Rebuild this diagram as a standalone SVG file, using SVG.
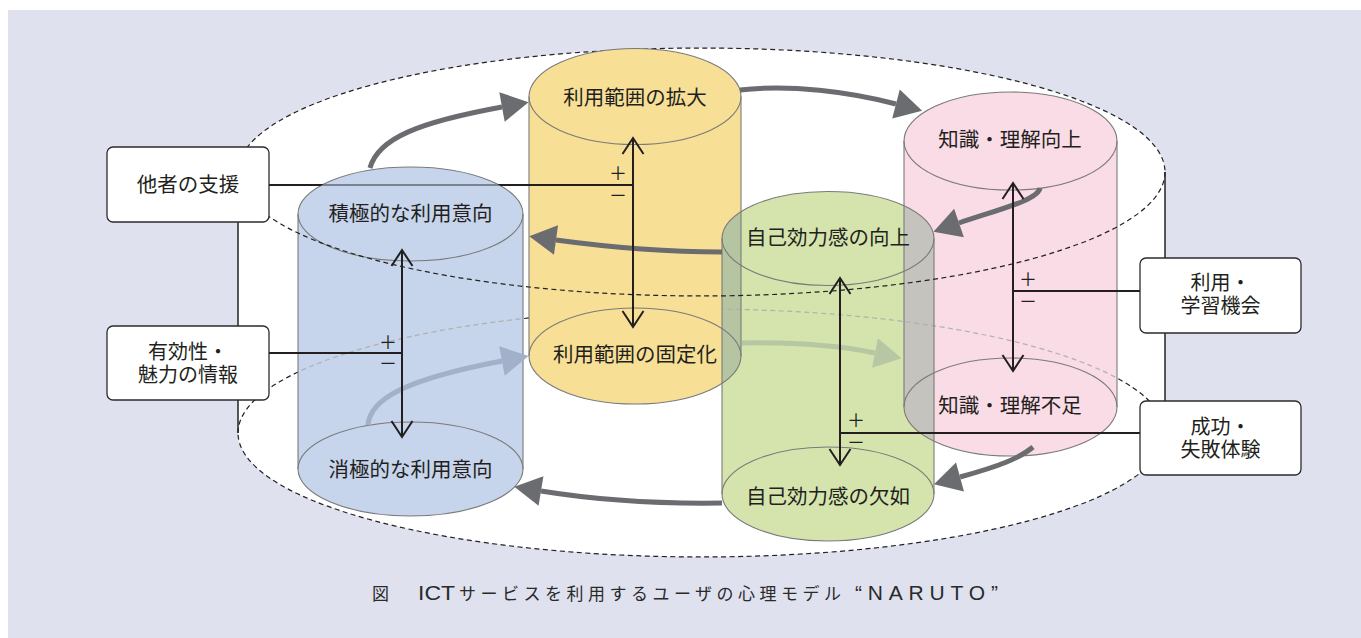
<svg xmlns="http://www.w3.org/2000/svg" width="1361" height="638" viewBox="0 0 1361 638">
<style>
.t{font-family:"Noto Sans CJK JP","Noto Sans CJK SC",sans-serif;font-size:20.5px;fill:#231f20;text-anchor:middle}
.tb{font-family:"Noto Sans CJK JP","Noto Sans CJK SC",sans-serif;font-size:20px;fill:#231f20;text-anchor:middle}
.pm{font-family:"Noto Sans CJK JP","Noto Sans CJK SC",sans-serif;font-size:18px;fill:#231f20;text-anchor:middle}
.cap{font-family:"Noto Sans CJK JP","Noto Sans CJK SC",sans-serif;font-size:17px;fill:#2a2a2a}
.lat{font-family:"Liberation Sans",sans-serif;font-size:21px;fill:#2a2a2a}
.box{fill:#fff;stroke:#2b2b2b;stroke-width:1.3}
.cylo{fill:none;stroke:#7a7a7a;stroke-width:1.1}
.dash{fill:none;stroke:#222;stroke-width:1.2;stroke-dasharray:5 3.5}
.dashg{fill:none;stroke:#b0b0b0;stroke-width:1.2;stroke-dasharray:5 3.5}
.side{stroke:#222;stroke-width:1.5}
.ln{stroke:#231f20;stroke-width:2;fill:none}
.dbl{stroke:#231f20;stroke-width:2;fill:none;marker-start:url(#ch);marker-end:url(#ch)}
.arr{fill:none;stroke:#6b6c70;stroke-width:5;marker-end:url(#ah)}
.arrb{fill:none;stroke:#a2b0c9;stroke-width:5;marker-end:url(#ahb)}
.arrg{fill:none;stroke:#b7c6a3;stroke-width:5;marker-end:url(#ahg)}
</style>
<defs>
<marker id="ah" markerUnits="userSpaceOnUse" markerWidth="30" markerHeight="32" viewBox="0 -16 30 32" refX="0" refY="0" orient="auto" overflow="visible"><path d="M0,-15 L27,0 L0,15 Z" fill="#6b6c70"/></marker>
<marker id="ahb" markerUnits="userSpaceOnUse" markerWidth="30" markerHeight="32" viewBox="0 -16 30 32" refX="0" refY="0" orient="auto" overflow="visible"><path d="M0,-15 L27,0 L0,15 Z" fill="#a2b0c9"/></marker>
<marker id="ahg" markerUnits="userSpaceOnUse" markerWidth="30" markerHeight="32" viewBox="0 -16 30 32" refX="0" refY="0" orient="auto" overflow="visible"><path d="M0,-15 L27,0 L0,15 Z" fill="#b7c6a3"/></marker>
<marker id="ch" markerUnits="userSpaceOnUse" markerWidth="20" markerHeight="24" viewBox="-18 -12 20 24" refX="0" refY="0" orient="auto-start-reverse" overflow="visible"><path d="M-16,-10.5 L0,0 L-16,10.5" fill="none" stroke="#231f20" stroke-width="2"/></marker>
<path id="sBlue" d="M298,214 A112.5,47 0 0 1 523,214 L523,469 A112.5,47 0 0 1 298,469 Z"/>
<path id="sYel" d="M529,96.5 A106,48 0 0 1 741,96.5 L741,356 A106,48 0 0 1 529,356 Z"/>
<path id="sPink" d="M904,141 A106.5,49 0 0 1 1117,141 L1117,407 A106.5,49 0 0 1 904,407 Z"/>
<path id="sGreen" d="M722,238.5 A106,47 0 0 1 934,238.5 L934,494 A106,47 0 0 1 722,494 Z"/>
<clipPath id="cGreen"><use href="#sGreen"/></clipPath>
<clipPath id="cBlue"><use href="#sBlue"/></clipPath>
<clipPath id="cBGP"><use href="#sBlue"/><use href="#sGreen"/><use href="#sPink"/></clipPath>
</defs>

<rect x="0" y="0" width="1361" height="638" fill="#fff"/>
<rect x="8" y="10" width="1353" height="628" fill="#dfe1ef"/>

<g id="frame">
<path d="M238,172 A463.5,124 0 0 1 1165,172 L1165,433 A463.5,124 0 0 1 238,433 Z" fill="#fff"/>
<path class="dash" d="M238,172 A463.5,124 0 0 1 1165,172"/>
<path class="dash" d="M238,433 A463.5,124 0 0 1 1165,433"/>
<line class="side" x1="238" y1="172" x2="238" y2="433"/>
<line class="side" x1="1165" y1="172" x2="1165" y2="433"/>
</g>

<g id="cylinders-fill">
<use href="#sYel" fill="#f7df96"/>
<use href="#sPink" fill="#f9dce6"/>
<use href="#sBlue" fill="#c6d4ec"/>
<use href="#sGreen" fill="#d5e4ad"/>
<use href="#sYel" fill="#b5c4a1" clip-path="url(#cGreen)"/>
<use href="#sPink" fill="#c4c3bd" clip-path="url(#cGreen)"/>
<path class="dashg" d="M238,433 A463.5,124 0 0 1 1165,433" clip-path="url(#cBGP)"/>
</g>

<g id="cylinder-outlines">
<g class="cylo">
<ellipse cx="635" cy="96.5" rx="106" ry="48"/><ellipse cx="635" cy="356" rx="106" ry="48"/>
<line x1="529" y1="96.5" x2="529" y2="356"/><line x1="741" y1="96.5" x2="741" y2="356"/>
<ellipse cx="1010.5" cy="141" rx="106.5" ry="49"/><ellipse cx="1010.5" cy="407" rx="106.5" ry="49"/>
<line x1="904" y1="141" x2="904" y2="407"/><line x1="1117" y1="141" x2="1117" y2="407"/>
<ellipse cx="410.5" cy="214" rx="112.5" ry="47"/><ellipse cx="410.5" cy="469" rx="112.5" ry="47"/>
<line x1="298" y1="214" x2="298" y2="469"/><line x1="523" y1="214" x2="523" y2="469"/>
<ellipse cx="828" cy="238.5" rx="106" ry="47"/><ellipse cx="828" cy="494" rx="106" ry="47"/>
<line x1="722" y1="238.5" x2="722" y2="494"/><line x1="934" y1="238.5" x2="934" y2="494"/>
</g>
</g>

<g id="front-arcs">
<path class="dash" d="M1165,172 A463.5,124 0 0 1 238,172"/>
<path class="dash" d="M1165,433 A463.5,124 0 0 1 238,433"/>
</g>

<g id="connectors">
<path class="arrb" d="M368,425 C370,400 402,380 502,361"/>
<path class="arrg" d="M742,343 C800,342 840,346 875,353"/>
<path class="arr" d="M370,168 C378,138 420,122 502,107"/>
<path class="arr" d="M740,90 C790,84 850,92 896,104"/>
<path class="arr" d="M1040,188 C1038,200 1000,209 959,223"/>
<path class="arr" d="M722,252 C660,252 600,246 556,240"/>
<path class="arr" d="M1033,447 C1020,458 1000,466 960,477"/>
<path class="arr" d="M722,503 C650,504 590,499 541,491"/>
<line class="ln" x1="269" y1="185" x2="633" y2="185"/>
<line x1="269" y1="185" x2="633" y2="185" stroke="#7b8292" stroke-width="2" clip-path="url(#cBlue)"/>
<line class="ln" x1="269" y1="353" x2="402" y2="353"/>
<line class="ln" x1="1140" y1="291" x2="1013" y2="291"/>
<line class="ln" x1="1140" y1="433" x2="840" y2="433"/>
<line class="dbl" x1="402" y1="250" x2="402" y2="437"/>
<line class="dbl" x1="633" y1="138" x2="633" y2="327"/>
<line class="dbl" x1="1013" y1="183" x2="1013" y2="371"/>
<line class="dbl" x1="840" y1="278" x2="840" y2="465"/>
<text class="pm" x="388" y="348.5">＋</text><text class="pm" x="388" y="369.5">－</text>
<text class="pm" x="618" y="179.5">＋</text><text class="pm" x="618" y="201.5">－</text>
<text class="pm" x="1028" y="285.5">＋</text><text class="pm" x="1028" y="307.5">－</text>
<text class="pm" x="856" y="426.5">＋</text><text class="pm" x="856" y="448.5">－</text>
</g>

<g id="node-positive-intent"><text class="t" x="410.5" y="221">積極的な利用意向</text></g>
<g id="node-negative-intent"><text class="t" x="410.5" y="477">消極的な利用意向</text></g>
<g id="node-scope-expand"><text class="t" x="635" y="105">利用範囲の拡大</text></g>
<g id="node-scope-fixed"><text class="t" x="635" y="362">利用範囲の固定化</text></g>
<g id="node-efficacy-up"><text class="t" x="828" y="245">自己効力感の向上</text></g>
<g id="node-efficacy-lack"><text class="t" x="828" y="504">自己効力感の欠如</text></g>
<g id="node-knowledge-up"><text class="t" x="1010" y="147">知識・理解向上</text></g>
<g id="node-knowledge-lack"><text class="t" x="1010" y="413">知識・理解不足</text></g>

<g id="node-support">
<rect class="box" x="107" y="147" width="162" height="75" rx="6"/>
<text class="t" x="188" y="192">他者の支援</text>
</g>
<g id="node-info">
<rect class="box" x="107" y="326" width="162" height="74" rx="6"/>
<text class="tb" x="188" y="359">有効性・</text>
<text class="tb" x="188" y="382">魅力の情報</text>
</g>
<g id="node-opportunity">
<rect class="box" x="1140" y="258" width="161" height="75" rx="6"/>
<text class="tb" x="1220.5" y="290">利用・</text>
<text class="tb" x="1220.5" y="313">学習機会</text>
</g>
<g id="node-experience">
<rect class="box" x="1140" y="401" width="161" height="74" rx="6"/>
<text class="tb" x="1220.5" y="434">成功・</text>
<text class="tb" x="1220.5" y="457">失敗体験</text>
</g>

<g id="caption">
<text class="cap" x="372" y="600">図</text>
<text class="lat" x="418" y="600" textLength="37" lengthAdjust="spacingAndGlyphs">ICT</text>
<text class="cap" x="459" y="600" textLength="382" lengthAdjust="spacing">サービスを利用するユーザの心理モデル</text>
<text class="lat" x="855" y="600" textLength="143" lengthAdjust="spacing">“NARUTO”</text>
</g>
</svg>
